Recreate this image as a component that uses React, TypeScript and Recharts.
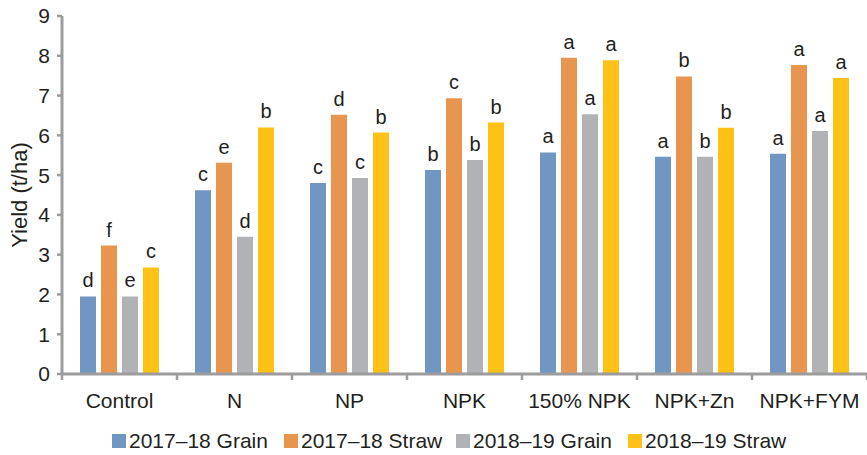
import { Bar, BarChart, LabelList, Legend, XAxis, YAxis } from "recharts";

const categories = ["Control", "N", "NP", "NPK", "150% NPK", "NPK+Zn", "NPK+FYM"];

const grain1718 = [1.95, 4.62, 4.8, 5.13, 5.57, 5.46, 5.54];
const straw1718 = [3.23, 5.31, 6.52, 6.93, 7.95, 7.48, 7.77];
const grain1819 = [1.95, 3.45, 4.93, 5.38, 6.53, 5.46, 6.11];
const straw1819 = [2.68, 6.2, 6.07, 6.32, 7.89, 6.19, 7.44];

const grain1718Letters = ["d", "c", "c", "b", "a", "a", "a"];
const straw1718Letters = ["f", "e", "d", "c", "a", "b", "a"];
const grain1819Letters = ["e", "d", "c", "b", "a", "b", "a"];
const straw1819Letters = ["c", "b", "b", "b", "a", "b", "a"];

const yTicks = [0, 1, 2, 3, 4, 5, 6, 7, 8, 9];

const SERIES = [
  { key: "g1718", letters: "g1718L", name: "2017\u201318 Grain", color: "#7096c1" },
  { key: "s1718", letters: "s1718L", name: "2017\u201318 Straw", color: "#e8954f" },
  { key: "g1819", letters: "g1819L", name: "2018\u201319 Grain", color: "#b1b2b6" },
  { key: "s1819", letters: "s1819L", name: "2018\u201319 Straw", color: "#fdc215" },
];

const data = categories.map((name, i) => ({
  name,
  g1718: grain1718[i],
  s1718: straw1718[i],
  g1819: grain1819[i],
  s1819: straw1819[i],
  g1718L: grain1718Letters[i],
  s1718L: straw1718Letters[i],
  g1819L: grain1819Letters[i],
  s1819L: straw1819Letters[i],
}));

const FONT = "'Liberation Sans', Arial, Helvetica, sans-serif";
const AXIS = "#9c9c9c";
const TEXT = "#231f20";
const WIDTH = 867;
const HEIGHT = 455;
const LEFT = 62;
const TICK_SIZE = 5;
const TICK_MARGIN = 14;
const BAND = (WIDTH - LEFT) / categories.length;

function CategoryTick(props: any) {
  const { x, y, payload, index } = props;
  const axisY = y - TICK_SIZE - TICK_MARGIN;
  return (
    <g>
      <line x1={x - BAND / 2} x2={x - BAND / 2} y1={axisY} y2={axisY + 6} stroke={AXIS} strokeWidth={2.5} />
      {index === categories.length - 1 && (
        <line x1={x + BAND / 2} x2={x + BAND / 2} y1={axisY} y2={axisY + 6} stroke={AXIS} strokeWidth={2.5} />
      )}
      <text x={x} y={y} dy="0.71em" textAnchor="middle" fill={TEXT} fontSize={21} fontFamily={FONT}>
        {payload.value}
      </text>
    </g>
  );
}

function LegendContent() {
  return (
    <div
      style={{
        display: "flex",
        marginLeft: 112,
        paddingTop: 8,
        height: 28,
        alignItems: "center",
        fontFamily: FONT,
      }}
    >
      {SERIES.map((s) => (
        <div key={s.key} style={{ display: "flex", alignItems: "center", width: 172 }}>
          <span style={{ width: 14, height: 14, background: s.color, marginRight: 3, display: "inline-block" }} />
          <span style={{ fontSize: 21, color: TEXT, whiteSpace: "nowrap" }}>{s.name}</span>
        </div>
      ))}
    </div>
  );
}

export default function App() {
  return (
    <div style={{ position: "absolute", left: 0, top: 0, background: "#fff" }}>
      <BarChart
        width={WIDTH}
        height={HEIGHT}
        data={data}
        margin={{ top: 16, right: 0, bottom: 0, left: 0 }}
        barSize={16}
        barGap={5}
      >
        <XAxis
          dataKey="name"
          height={45}
          axisLine={{ stroke: AXIS, strokeWidth: 3 }}
          tickLine={false}
          tickSize={TICK_SIZE}
          tickMargin={TICK_MARGIN}
          tick={<CategoryTick />}
          interval={0}
        />
        <YAxis
          width={LEFT}
          domain={[0, 9]}
          ticks={yTicks}
          interval={0}
          axisLine={{ stroke: AXIS, strokeWidth: 3 }}
          tickLine={{ stroke: AXIS, strokeWidth: 2.5 }}
          tickSize={5}
          tickMargin={7}
          tick={{ fontSize: 21, fill: TEXT, fontFamily: FONT }}
          label={{
            value: "Yield (t/ha)",
            angle: -90,
            position: "insideLeft",
            offset: 19,
            style: { textAnchor: "middle", fontSize: 22, fill: TEXT, fontFamily: FONT },
          }}
        />
        <Legend verticalAlign="bottom" height={36} content={<LegendContent />} wrapperStyle={{ left: 0, width: WIDTH }} />
        {SERIES.map((s) => (
          <Bar key={s.key} dataKey={s.key} name={s.name} fill={s.color} isAnimationActive={false}>
            <LabelList
              dataKey={s.letters}
              position="top"
              offset={9}
              style={{ fontSize: 20, fill: TEXT, fontFamily: FONT }}
            />
          </Bar>
        ))}
      </BarChart>
    </div>
  );
}
